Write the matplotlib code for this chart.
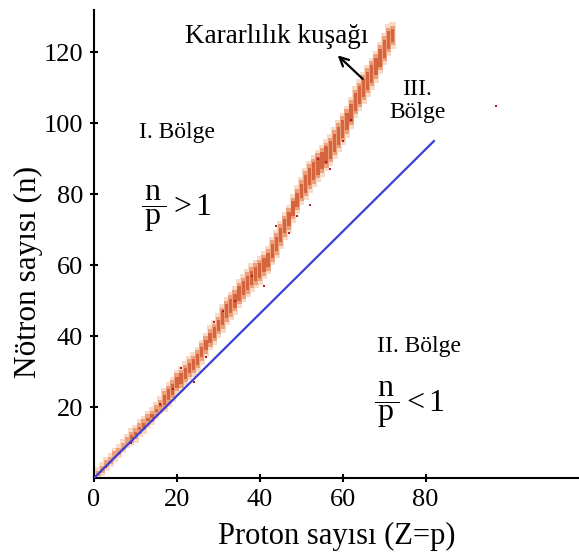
import numpy as np
import matplotlib
matplotlib.use("Agg")
from matplotlib import pyplot as plt

plt.rcParams['font.family'] = 'Liberation Serif'
plt.rcParams['mathtext.fontset'] = 'custom'
plt.rcParams['mathtext.rm'] = 'Liberation Serif'
plt.rcParams['mathtext.it'] = 'Liberation Serif:italic'

# stability band: proton number and neutron range
z = list(range(1, 73))
n_lo = [0.5, 1.5, 3, 4, 5.5, 6.5, 8, 9.5, 10, 11, 12.5, 13.5, 15, 16, 17.5, 19,
        19.5, 21, 22.5, 24.5, 25.5, 27, 28.5, 29.5, 31, 33, 35, 37, 38.5, 40.5,
        42, 44, 45.5, 47, 49, 50.5, 52, 53.5, 54.5, 55.5, 57, 58.5, 61, 63, 65.5,
        68, 70, 73, 75.5, 78, 79.5, 81.5, 83, 84.5, 86, 87.5, 89, 91, 93, 95, 97,
        99.5, 102.5, 104.5, 106.5, 108.5, 110.5, 112.5, 115, 117.5, 120, 122]
n_hi = [2, 3.5, 5, 6, 7.5, 8.5, 10, 11.5, 13, 14, 15.5, 16.5, 18, 19, 20.5, 22,
        24.5, 26, 27.5, 29.5, 30.5, 32, 33.5, 34.5, 36, 38, 40, 42, 43.5, 45.5,
        48, 50, 51.5, 53, 55, 56.5, 58, 59.5, 60.5, 61.5, 63, 64.5, 67, 69, 71.5,
        74, 76, 79, 81.5, 84, 86.5, 88.5, 90, 91.5, 93, 94.5, 96, 98, 100, 102, 104,
        106.5, 109.5, 111.5, 113.5, 115.5, 117.5, 119.5, 122, 124.5, 127, 127.5]

# stray dark points
dot_z = [3, 6, 9, 12, 14, 16, 19, 21, 24, 27, 29, 31, 34, 38, 41, 44, 47, 49,
         52, 54, 56, 57, 60, 62, 97]
dot_n = [3, 7, 10, 14, 16, 21, 25, 31, 27, 34, 44, 47, 50, 57, 54, 71, 69, 74,
         77, 90, 89, 87, 95, 101, 105]

# N = Z reference line as drawn
line_z = [0, 82]
line_n = [0, 95]

fig = plt.figure(figsize=(5.79, 5.54), dpi=100)
ax = fig.add_axes([0.1624, 0.1372, 0.8376, 0.845])

lo = np.array(n_lo)
hi = np.array(n_hi)
ax.bar(z, hi - lo + 2, bottom=lo - 1, width=1.5, color='#f8dac6', edgecolor='none', zorder=2)
ax.bar(z, hi - lo, bottom=lo, width=1.2, color='#eda07c', edgecolor='none', zorder=3)
ax.bar(z, hi - lo - 2, bottom=lo + 1, width=0.8, color='#d4653f', edgecolor='none', zorder=3)
ax.scatter(dot_z, dot_n, s=3, marker='s', color='#b3192a', zorder=4, linewidths=0)
ax.plot(line_z, line_n, color='#3a3fd6', lw=1.6, zorder=5)

ax.set_xlim(0, 117)
ax.set_ylim(0, 132)
ax.spines['top'].set_visible(False)
ax.spines['right'].set_visible(False)
ax.spines['left'].set_linewidth(1.5)
ax.spines['bottom'].set_linewidth(1.5)
ax.set_xticks([0, 20, 40, 60, 80])
ax.set_yticks([20, 40, 60, 80, 100, 120])
ax.tick_params(direction='inout', length=6, width=1.5, labelsize=19, pad=5)

ax.set_xlabel('Proton sayısı (Z=p)', fontsize=22, labelpad=8)
ax.set_ylabel('Nötron sayısı (n)', fontsize=22.5)
ax.yaxis.set_label_coords(-0.105, 0.44)

ax.text(20, 97.5, 'I. Bölge', fontsize=17, ha='center', va='center')
ax.text(20, 76, r'$\dfrac{\,\mathrm{n}\,}{\,\mathrm{p}\,} > 1$', fontsize=23, ha='center', va='center')
ax.text(78, 106.3, 'III.\nBölge', fontsize=17, ha='center', va='center', linespacing=1.15)
ax.text(78.5, 37, 'II. Bölge', fontsize=17, ha='center', va='center')
ax.text(76, 20.6, r'$\dfrac{\,\mathrm{n}\,}{\,\mathrm{p}\,} < 1$', fontsize=23, ha='center', va='center')

ax.text(44, 124.5, 'Kararlılık kuşağı', fontsize=19.5, ha='center', va='center', zorder=6)
ax.annotate('', xy=(58.3, 119.7), xytext=(65.3, 112), zorder=6,
            arrowprops=dict(arrowstyle='->', color='black', lw=1.6, mutation_scale=16))

fig.savefig('out.png', dpi=100)
